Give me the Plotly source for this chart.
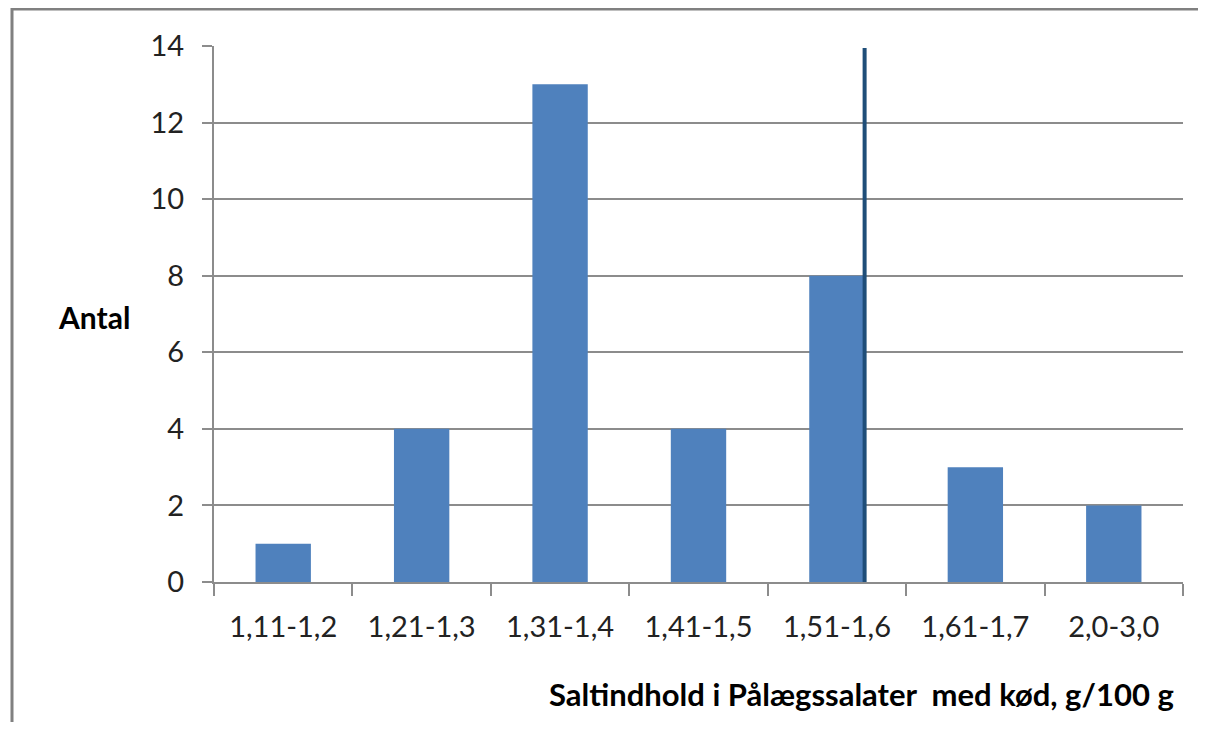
import plotly.graph_objects as go

categories = ["1,11-1,2", "1,21-1,3", "1,31-1,4", "1,41-1,5", "1,51-1,6", "1,61-1,7", "2,0-3,0"]
counts = [1, 4, 13, 4, 8, 3, 2]
y_ticks = [0, 2, 4, 6, 8, 10, 12, 14]
# reference line position (in category index units) and its height
ref_line_x = 4.2
ref_line_top = 13.95

OFF = 8  # page body margin
W, H = 1206 - 2 * OFF, 730 - 2 * OFF
# target plot area in page pixels
PL, PR, PT, PB = 214, 1183, 46, 582
L = PL - OFF
T = PT - OFF
R = W - (PR - OFF)
B = H - (PB - OFF)
pw, ph = PR - PL, PB - PT

grid_col = "#8c8c8c"
font_fam = "Lato, 'Open Sans', sans-serif"

fig = go.Figure()
fig.add_trace(go.Bar(x=categories, y=counts, marker=dict(color="#4F81BD", line=dict(width=0)),
                     hoverinfo="x+y"))

fig.add_shape(type="line", xref="x", yref="y", x0=ref_line_x, x1=ref_line_x, y0=0, y1=ref_line_top,
              line=dict(color="#1F4E79", width=4))

def px2paper_x(px):
    return (px - PL) / pw
def px2paper_y(py):
    return (PB - py) / ph

# outer frame (left and top edges visible)
frame = dict(color="#808080", width=3)
fig.add_shape(type="line", xref="paper", yref="paper",
              x0=px2paper_x(11), x1=px2paper_x(1206), y0=px2paper_y(9), y1=px2paper_y(9), line=frame)
fig.add_shape(type="line", xref="paper", yref="paper",
              x0=px2paper_x(12), x1=px2paper_x(12), y0=px2paper_y(8), y1=px2paper_y(730), line=frame)

fig.add_annotation(text="<b>Antal</b>", xref="paper", yref="paper",
                   x=px2paper_x(94), y=px2paper_y(317), xanchor="center", yanchor="middle",
                   showarrow=False, font=dict(family=font_fam, size=30, color="#000000"))
fig.add_annotation(text="<b>Saltindhold i Pålægssalater  med kød, g/100 g</b>", xref="paper", yref="paper",
                   x=px2paper_x(1176), y=px2paper_y(694), xanchor="right", yanchor="middle",
                   showarrow=False, font=dict(family=font_fam, size=31, color="#000000"))

fig.update_layout(
    width=W, height=H,
    margin=dict(l=L, r=R, t=T, b=B, pad=0),
    paper_bgcolor="white", plot_bgcolor="white",
    bargap=0.6,
    showlegend=False,
    font=dict(family=font_fam, size=29, color="#222222"),
)
fig.update_xaxes(
    type="category", range=[-0.5, len(categories) - 0.5],
    showline=True, linecolor=grid_col, linewidth=2,
    ticks="outside", tickson="boundaries", ticklen=12, tickcolor=grid_col, tickwidth=2,
    showgrid=False, tickfont=dict(size=29), ticklabelstandoff=18, fixedrange=True,
)
fig.update_yaxes(
    range=[0, 14], tickvals=y_ticks,
    showline=True, linecolor=grid_col, linewidth=2,
    ticks="outside", ticklen=10, tickcolor=grid_col, tickwidth=2,
    showgrid=True, gridcolor=grid_col, gridwidth=2,
    zeroline=False, tickfont=dict(size=29), ticklabelstandoff=12, fixedrange=True,
)

fig.write_html("out.html")
